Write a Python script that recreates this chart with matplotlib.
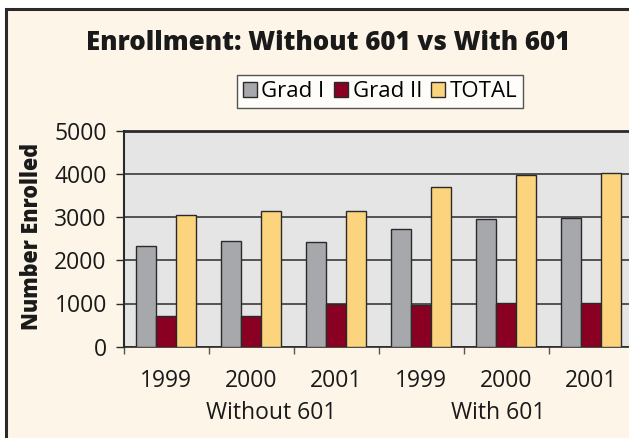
import numpy as np
import matplotlib.pyplot as plt
from matplotlib.patches import Rectangle
import matplotlib.transforms as mtransforms

years = ['1999', '2000', '2001', '1999', '2000', '2001']
groups = ['Without 601', 'With 601']
series = ['Grad I', 'Grad II', 'TOTAL']
grad1 = [2340, 2440, 2420, 2730, 2950, 2980]
grad2 = [720, 700, 980, 960, 1010, 1010]
total = [3050, 3130, 3150, 3700, 3970, 4030]
colors = ['#a7a8ac', '#8a0022', '#fdd47e']

plt.rcParams['font.family'] = ['Open Sans', 'DejaVu Sans']

W, H = 629, 438
fig = plt.figure(figsize=(W / 100, H / 100), dpi=100)
fig.patch.set_facecolor('white')

# cream chart area with dark frame (cut off at right/bottom)
fig.patches.append(Rectangle((6.5 / W, -0.1), 1.2, (H - 8.5) / H + 0.1,
                             transform=fig.transFigure, facecolor='#fdf6e8',
                             edgecolor='#2a2a2a', linewidth=2.2, zorder=-1))

left, right, bottom, top = 123.5, 634, 346.7, 130.7
ax = fig.add_axes([left / W, (H - bottom) / H, (right - left) / W, (bottom - top) / H])
ax.set_facecolor('#e5e5e5')

x = np.arange(len(years))
bw = 0.235
for i, (vals, c, name) in enumerate(zip([grad1, grad2, total], colors, series)):
    ax.bar(x + (i - 1) * bw, vals, bw, color=c, edgecolor='#2a2a2a',
           linewidth=1.0, label=name, zorder=3)

ax.set_xlim(-0.5, 5.5)
ax.set_ylim(0, 5000)
ax.set_yticks(range(0, 5001, 1000))
ax.yaxis.grid(True, color='#3a3a3a', linewidth=1.2, zorder=1)
ax.set_axisbelow(True)
for s in ['top', 'right']:
    ax.spines[s].set_visible(False)
ax.spines['left'].set_color('#2a2a2a')
ax.spines['left'].set_linewidth(1.5)
ax.spines['bottom'].set_color('#2a2a2a')
ax.spines['bottom'].set_linewidth(1.2)
ax.axhline(5000, color='#2a2a2a', linewidth=2, zorder=2, clip_on=False)

ax.tick_params(axis='y', direction='out', length=6, width=1, colors='#2a2a2a',
               labelsize=16.5, labelcolor='#1a1a1a', pad=6)
ax.set_xticks(np.arange(-0.5, 6.0, 1.0))
ax.set_xticklabels([])
ax.tick_params(axis='x', which='major', direction='out', length=5, width=1, colors='#555555')
ax.set_xticks(x, minor=True)
ax.set_xticklabels(years, minor=True)
ax.tick_params(axis='x', which='minor', length=0, labelsize=16.5, labelcolor='#1a1a1a', pad=16)

trans = mtransforms.blended_transform_factory(ax.transData, fig.transFigure)
for gx, g in zip([1.24, 3.9], groups):
    ax.text(gx, (H - 413) / H, g, transform=trans, ha='center', va='center',
            fontsize=16.5, color='#1a1a1a')

fig.text(32.5 / W, (H - 236.5) / H, 'Number Enrolled', rotation=90, ha='center',
         va='center', fontsize=15.5, fontweight='heavy', color='#1a1a1a')

fig.text(328 / W, (H - 43) / H, 'Enrollment: Without 601 vs With 601', ha='center',
         va='center', fontsize=18.6, fontweight='heavy', color='#1a1a1a')

leg = fig.legend(loc='center', bbox_to_anchor=(380 / W, (H - 91.5) / H), ncol=3,
                 frameon=True, fancybox=False, fontsize=16, handlelength=0.65,
                 handleheight=0.65, handletextpad=0.2, columnspacing=0.4,
                 borderpad=0.25, borderaxespad=0)
leg.get_frame().set_edgecolor('#2a2a2a')
leg.get_frame().set_linewidth(1.0)

fig.savefig('out.png', dpi=100, facecolor=fig.get_facecolor())
